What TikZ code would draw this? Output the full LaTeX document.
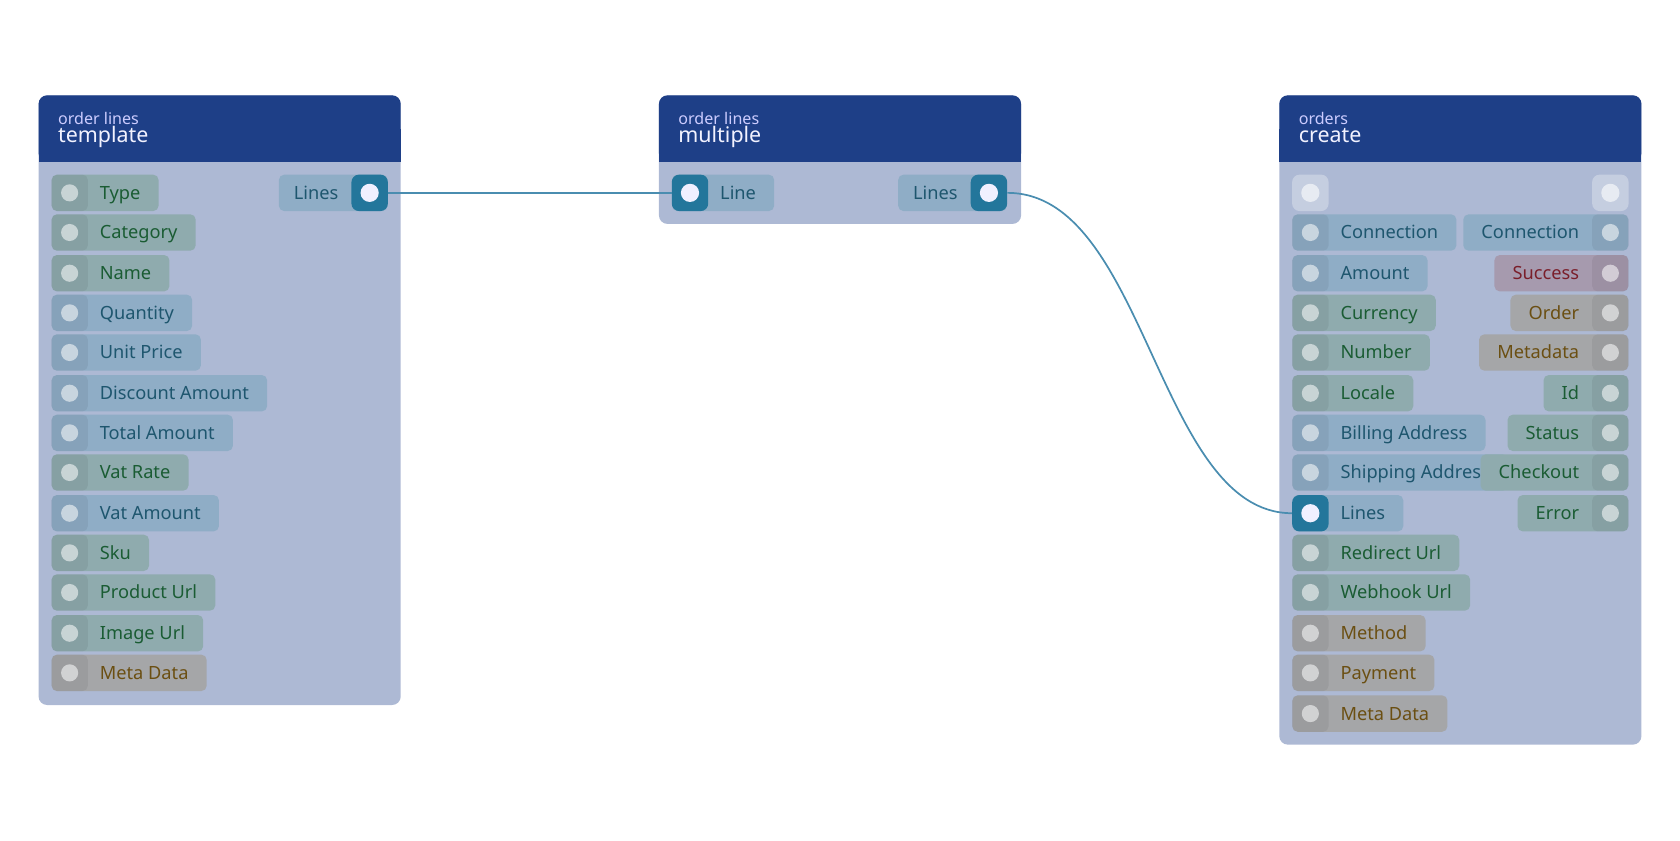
\documentclass[tikz,border=0pt]{standalone}
\usepackage{fontspec}
\setmainfont{Noto Sans}
\begin{document}
\definecolor{hdr}{HTML}{1E3F87}
\definecolor{bod}{HTML}{ADB9D4}
\definecolor{gP}{HTML}{8FABAE}\definecolor{gT}{HTML}{1A5C33}
\definecolor{bP}{HTML}{8FADC6}\definecolor{bT}{HTML}{1E566E}
\definecolor{yP}{HTML}{A5A6A8}\definecolor{yT}{HTML}{6B4F12}
\definecolor{pP}{HTML}{A69AAE}\definecolor{pT}{HTML}{7A1E2A}
\definecolor{conn}{HTML}{23769B}
\definecolor{edge}{HTML}{4A8DB0}
\tikzset{
 pill/.style={rounded corners=5pt,inner sep=0pt,minimum height=34pt,text height=14pt,text depth=2pt,font=\fontsize{17}{20}\selectfont},
 G/.style={fill=gP,text=gT}, B/.style={fill=bP,text=bT}, Y/.style={fill=yP,text=yT}, P/.style={fill=pP,text=pT},
 port/.style={rounded corners=5pt,minimum size=34pt,inner sep=0pt,fill=black,fill opacity=.06},
 cport/.style={rounded corners=7pt,minimum size=34pt,inner sep=0pt,fill=conn},
 eport/.style={rounded corners=7pt,minimum size=34pt,inner sep=0pt,fill=white,fill opacity=.3},
 dot/.style={circle,fill=white,fill opacity=.55,minimum size=16pt,inner sep=0pt},
 cdot/.style={circle,fill=white!94!blue,minimum size=17pt,inner sep=0pt},
 edot/.style={circle,fill=white,fill opacity=.6,minimum size=17pt,inner sep=0pt},
 box/.style={fill=bod,rounded corners=8pt},
 hd/.style={fill=hdr,rounded corners=8pt},
 sub/.style={anchor=base west,text=white!80!blue,font=\fontsize{15}{15}\selectfont,inner sep=0pt},
 ttl/.style={anchor=base west,text=white!95!blue,font=\fontsize{20}{20}\selectfont,inner sep=0pt},
 wire/.style={draw=edge,line width=1.6pt}
}
\newcommand\lp[5]{\node[pill,#5,anchor=west] (#1) at (#2,#3) {\hspace*{45pt}#4\hspace*{17pt}};
 \node[port] (#1p) at (#2+17,#3) {}; \node[dot] at (#2+17,#3) {};}
\newcommand\rp[5]{\node[pill,#5,anchor=east] (#1) at (#2,#3) {\hspace*{17pt}#4\hspace*{46pt}};
 \node[port] (#1p) at (#2-17,#3) {}; \node[dot] at (#2-17,#3) {};}
\newcommand\card[6]{% name x1 x2 ybottom sub title
 \fill[box] (#2,89) rectangle (#3,#4);
 \fill[hd] (#2,89) rectangle (#3,151);
 \fill[hdr] (#2,120) rectangle (#3,151);
 \node[sub] at (#2+18,116) {#5};
 \node[ttl] at (#2+18,133) {#6};}
\begin{tikzpicture}[x=1pt,y=-1pt]
\useasboundingbox (0,0) rectangle (1568,784);
% template
\card{t}{36}{374}{658}{order lines}{template}
\lp{ta}{48}{180}{Type}{G}
\lp{tb}{48}{217}{Category}{G}
\lp{tc}{48}{255}{Name}{G}
\lp{td}{48}{292}{Quantity}{B}
\lp{te}{48}{329}{Unit Price}{B}
\lp{tf}{48}{367}{Discount Amount}{B}
\lp{tg}{48}{404}{Total Amount}{B}
\lp{th}{48}{441}{Vat Rate}{G}
\lp{ti}{48}{479}{Vat Amount}{B}
\lp{tj}{48}{516}{Sku}{G}
\lp{tk}{48}{553}{Product Url}{G}
\lp{tl}{48}{591}{Image Url}{G}
\lp{tm}{48}{628}{Meta Data}{Y}
\node[pill,B,anchor=east] (tout) at (362,180) {\hspace*{14pt}Lines\hspace*{46pt}};
\node[cport] (toutp) at (345,180) {}; \node[cdot] at (345,180) {};
% multiple
\card{m}{615}{953}{209}{order lines}{multiple}
\node[pill,B,anchor=west] (min) at (627,180) {\hspace*{45pt}Line\hspace*{17pt}};
\node[cport] (minp) at (644,180) {}; \node[cdot] at (644,180) {};
\node[pill,B,anchor=east] (mout) at (940,180) {\hspace*{14pt}Lines\hspace*{46pt}};
\node[cport] (moutp) at (923,180) {}; \node[cdot] at (923,180) {};
% create
\card{c}{1194}{1532}{695}{orders}{create}
\node[eport] (ce1) at (1223,180) {}; \node[edot] at (1223,180) {};
\node[eport] (ce2) at (1503,180) {}; \node[edot] at (1503,180) {};
\lp{ca}{1206}{217}{Connection}{B}
\lp{cb}{1206}{255}{Amount}{B}
\lp{cc}{1206}{292}{Currency}{G}
\lp{cd}{1206}{329}{Number}{G}
\lp{ce}{1206}{367}{Locale}{G}
\lp{cf}{1206}{404}{Billing Address}{B}
\lp{cg}{1206}{441}{Shipping Address}{B}
\node[pill,B,anchor=west] (cin) at (1206,479) {\hspace*{45pt}Lines\hspace*{17pt}};
\node[cport] (cinp) at (1223,479) {}; \node[cdot] at (1223,479) {};
\lp{ci}{1206}{516}{Redirect Url}{G}
\lp{cj}{1206}{553}{Webhook Url}{G}
\lp{ck}{1206}{591}{Method}{Y}
\lp{cl}{1206}{628}{Payment}{Y}
\lp{cm}{1206}{666}{Meta Data}{Y}
\rp{ra}{1520}{217}{Connection}{B}
\rp{rb}{1520}{255}{Success}{P}
\rp{rc}{1520}{292}{Order}{Y}
\rp{rd}{1520}{329}{Metadata}{Y}
\rp{re}{1520}{367}{Id}{G}
\rp{rf}{1520}{404}{Status}{G}
\rp{rg}{1520}{441}{Checkout}{G}
\rp{rh}{1520}{479}{Error}{G}
% wires
\draw[wire] (toutp.east) -- (minp.west);
\draw[wire] (moutp.east) .. controls (1070,180) and (1080,479) .. (cinp.west);
\end{tikzpicture}
\end{document}
